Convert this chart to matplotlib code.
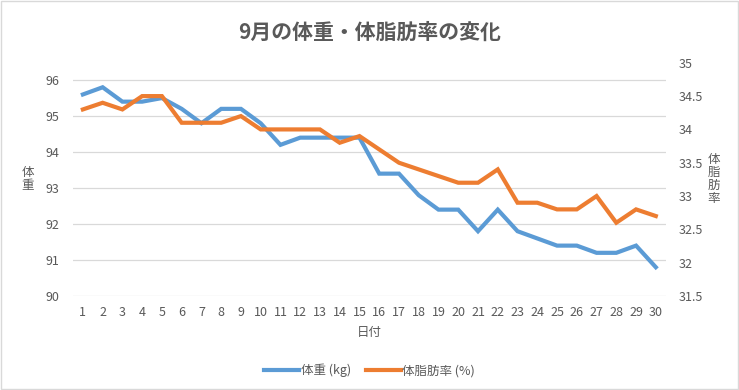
import matplotlib.pyplot as plt
from matplotlib.patches import Rectangle

plt.rcParams['font.family'] = ['Noto Sans CJK JP', 'DejaVu Sans']

days = list(range(1, 31))
weight = [95.6, 95.8, 95.4, 95.4, 95.5, 95.2, 94.8, 95.2, 95.2, 94.8,
          94.2, 94.4, 94.4, 94.4, 94.4, 93.4, 93.4, 92.8, 92.4, 92.4,
          91.8, 92.4, 91.8, 91.6, 91.4, 91.4, 91.2, 91.2, 91.4, 90.8]
fat = [34.3, 34.4, 34.3, 34.5, 34.5, 34.1, 34.1, 34.1, 34.2, 34.0,
       34.0, 34.0, 34.0, 33.8, 33.9, 33.7, 33.5, 33.4, 33.3, 33.2,
       33.2, 33.4, 32.9, 32.9, 32.8, 32.8, 33.0, 32.6, 32.8, 32.7]
left_ticks = [90, 91, 92, 93, 94, 95, 96]
right_ticks = [31.5, 32, 32.5, 33, 33.5, 34, 34.5, 35]

txt = '#595959'
blue = '#5B9BD5'
orange = '#ED7D31'

fig = plt.figure(figsize=(7.39, 3.9), dpi=100)
fig.patches.append(Rectangle((0.002, 0.003), 0.996, 0.994, transform=fig.transFigure,
                             fill=False, edgecolor='#D9D9D9', lw=1))
ax = fig.add_axes([0.0988, 0.241, 0.802, 0.598])
ax2 = ax.twinx()

ax.plot(days, weight, color=blue, lw=3, solid_joinstyle='miter', zorder=3)
ax2.plot(days, fat, color=orange, lw=3, solid_joinstyle='miter', zorder=3)

ax.set_xlim(0.5, 30.5)
ax.set_ylim(90, 96.48)
ax2.set_ylim(31.5, 35)
ax.set_yticks(left_ticks)
ax2.set_yticks(right_ticks)
ax2.set_yticklabels([f'{v:g}' for v in right_ticks])
ax.set_xticks(days)

ax.grid(axis='y', color='#D9D9D9', lw=0.9)
ax.set_axisbelow(True)
for a in (ax, ax2):
    for s in a.spines.values():
        s.set_visible(False)
    a.tick_params(length=0, labelsize=9, colors=txt)
ax.tick_params(axis='x', pad=7)
ax.tick_params(axis='y', pad=10)
ax2.tick_params(axis='y', pad=9)

fig.text(0.038, 0.54, '体\n重', ha='center', va='center', fontsize=9, color=txt, linespacing=1.0)
fig.text(0.966, 0.54, '体\n脂\n肪\n率', ha='center', va='center', fontsize=9, color=txt, linespacing=1.0)
fig.text(0.5, 0.148, '日付', ha='center', va='center', fontsize=9, color=txt)
fig.text(0.5, 0.918, '9月の体重・体脂肪率の変化', ha='center', va='center',
         fontsize=15, fontweight='bold', color=txt)

h1, = ax.plot([], [], color=blue, lw=3)
h2, = ax.plot([], [], color=orange, lw=3)
fig.legend([h1, h2], ['体重 (kg)', '体脂肪率 (%)'], loc='center', bbox_to_anchor=(0.5, 0.05),
           ncol=2, frameon=False, fontsize=9, labelcolor=txt, handlelength=2.8,
           handletextpad=0.1, columnspacing=1.2)

fig.savefig('out.png', dpi=100)
